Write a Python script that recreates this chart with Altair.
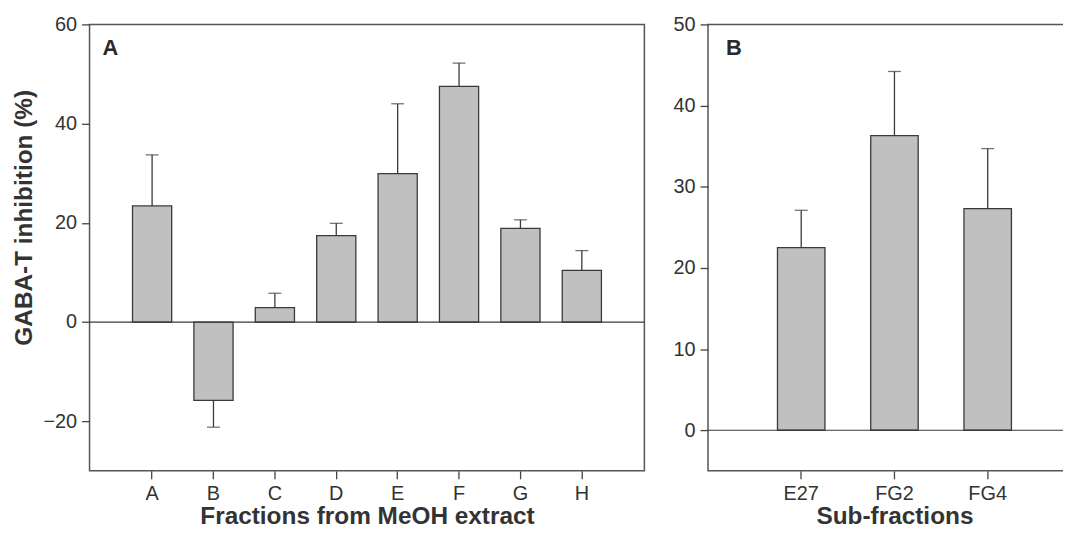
import altair as alt
import pandas as pd

frac_cats = ["A", "B", "C", "D", "E", "F", "G", "H"]
frac_vals = [23.4, -15.8, 2.9, 17.4, 29.9, 47.5, 18.9, 10.4]
frac_err = [33.7, -21.2, 5.8, 19.9, 44.0, 52.2, 20.6, 14.4]
frac_ticks = [-20, 0, 20, 40, 60]

sub_cats = ["E27", "FG2", "FG4"]
sub_vals = [22.5, 36.3, 27.3]
sub_err = [27.1, 44.2, 34.7]
sub_ticks = [0, 10, 20, 30, 40, 50]

BAR_FILL = "#c0c0c0"
LINE = "#3a3a3a"
FONT = "Liberation Sans"
H = 449


def panel(cats, vals, errs, domain, ticks, xtitle, ytitle, letter, width,
          pin, pout, letter_x, title_y=None):
    df = pd.DataFrame({"cat": cats, "val": vals, "err": errs})
    xenc = alt.X("cat:N", sort=cats,
                 scale=alt.Scale(paddingInner=pin, paddingOuter=pout),
                 axis=alt.Axis(title=xtitle, labelAngle=0))
    yaxis_kw = dict(values=ticks, title=ytitle)
    if title_y is not None:
        yaxis_kw.update(titleY=title_y, titleX=-53)
    yscale = alt.Scale(domain=domain, nice=False, zero=False)
    yenc = alt.Y("val:Q", scale=yscale, axis=alt.Axis(**yaxis_kw))
    base = alt.Chart(df)
    rule = base.mark_rule(color=LINE, strokeWidth=1.3).encode(
        x=xenc, y=yenc, y2="err:Q")
    cap = base.mark_tick(color=LINE, thickness=1.3, size=13).encode(
        x=xenc, y=alt.Y("err:Q", scale=yscale))
    bars = base.mark_bar(fill=BAR_FILL, stroke=LINE, strokeWidth=1.3).encode(
        x=xenc, y=yenc)
    zero = alt.Chart(pd.DataFrame({"z": [0]})).mark_rule(
        color=LINE, strokeWidth=1.2).encode(y=alt.Y("z:Q", scale=yscale))
    lab = alt.Chart(pd.DataFrame({"t": [letter]})).mark_text(
        font=FONT, fontSize=22, fontWeight="bold", color="#2a2a2a",
        align="left", baseline="alphabetic").encode(
        text="t:N", x=alt.value(letter_x), y=alt.value(31))
    return alt.layer(rule, cap, bars, zero, lab).properties(width=width, height=H)


pa = panel(frac_cats, frac_vals, frac_err, [-30, 60], frac_ticks,
           "Fractions from MeOH extract", "GABA-T inhibition (%)", "A", 558,
           0.362, 0.70, 13, title_y=194)
pb = panel(sub_cats, sub_vals, sub_err, [-5, 50], sub_ticks,
           "Sub-fractions", "", "B", 375,
           0.491, 0.745, 18)

chart = alt.hconcat(pa, pb, spacing=26).properties(
    padding={"left": 3, "top": 4, "right": -20, "bottom": 0}
).configure(
    font=FONT, background="white"
).configure_view(
    stroke="#555555", strokeWidth=1.5
).configure_axis(
    domain=False, grid=False,
    labelFont=FONT, labelFontSize=20, labelColor="#333333",
    titleFont=FONT, titleFontSize=24.5, titleFontWeight="bold", titleColor="#333333",
    tickColor="#444444", tickSize=8, tickWidth=1.3
).configure_axisX(labelPadding=5, titlePadding=1).configure_axisY(labelPadding=5, titlePadding=5)

chart.save("out.html", embed_options={"renderer": "svg", "actions": False})
